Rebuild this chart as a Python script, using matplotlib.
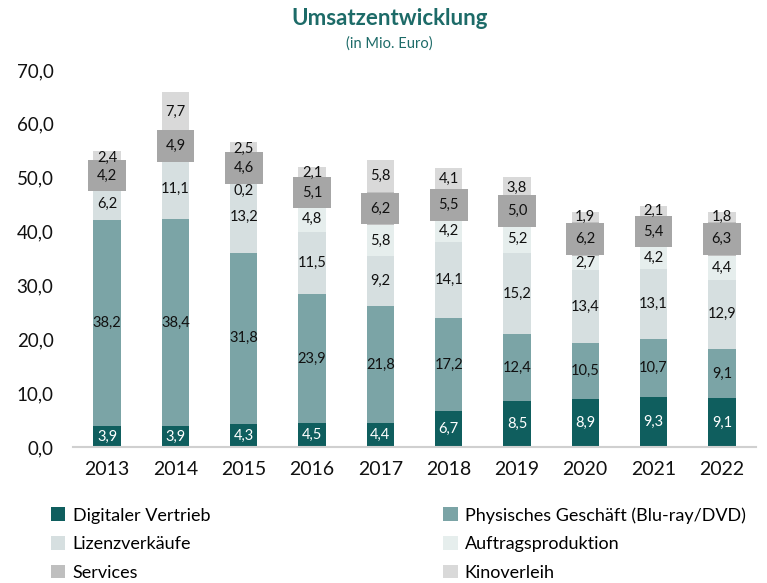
import matplotlib
matplotlib.use("Agg")
import matplotlib.pyplot as plt
import numpy as np

years = ["2013", "2014", "2015", "2016", "2017", "2018", "2019", "2020", "2021", "2022"]
digital = [3.9, 3.9, 4.3, 4.5, 4.4, 6.7, 8.5, 8.9, 9.3, 9.1]
physisch = [38.2, 38.4, 31.8, 23.9, 21.8, 17.2, 12.4, 10.5, 10.7, 9.1]
lizenz = [6.2, 11.1, 13.2, 11.5, 9.2, 14.1, 15.2, 13.4, 13.1, 12.9]
auftrag = [0.0, 0.0, 0.2, 4.8, 5.8, 4.2, 5.2, 2.7, 4.2, 4.4]
services = [4.2, 4.9, 4.6, 5.1, 6.2, 5.5, 5.0, 6.2, 5.4, 6.3]
kino = [2.4, 7.7, 2.5, 2.1, 5.8, 4.1, 3.8, 1.9, 2.1, 1.8]

series_names = ["Digitaler Vertrieb", "Physisches Geschäft (Blu-ray/DVD)", "Lizenzverkäufe",
                "Auftragsproduktion", "Services", "Kinoverleih"]
colors = ["#0f5e5e", "#7ba4a6", "#d6dfe0", "#e6eeed", "#bfbfbf", "#d9d9d9"]

plt.rcParams['font.family'] = ['Lato', 'DejaVu Sans']

fig = plt.figure(figsize=(7.67, 5.83), dpi=100)
ax = fig.add_axes([73/767, 136/583, 683/767, (447-70)/583])

x = np.arange(len(years))
data = [digital, physisch, lizenz, auftrag, services, kino]
bottom = np.zeros(len(years))
handles = []
for i, (vals, col, name) in enumerate(zip(data, colors, series_names)):
    vals = np.array(vals)
    h = ax.bar(x, vals, width=0.4, bottom=bottom, color=col, label=name, zorder=2)
    handles.append(h)
    for xi, v, b in zip(x, vals, bottom):
        if v <= 0:
            continue
        ytxt = b + v / 2
        if v < 1:
            ytxt = b - 1.7
        txt = f"{v:.1f}".replace(".", ",")
        if i == 0:
            ax.text(xi, ytxt, txt, ha="center", va="center", fontsize=10.5, color="white", zorder=7)
        elif i == 4:
            ax.text(xi, ytxt, txt, ha="center", va="center", fontsize=10.5, color="#111111", zorder=6,
                    bbox=dict(boxstyle="square,pad=0.6", fc="#a6a6a6", ec="none"))
        else:
            ax.text(xi, ytxt, txt, ha="center", va="center", fontsize=10.5, color="#111111", zorder=7)
    bottom = bottom + vals

ax.set_xlim(-0.5, len(years) - 0.5)
ax.set_ylim(0, 70)
ax.set_yticks(np.arange(0, 71, 10))
ax.set_yticklabels([f"{v:.1f}".replace(".", ",") for v in np.arange(0, 71, 10)], fontsize=13.5)
ax.set_xticks(x)
ax.set_xticklabels(years, fontsize=14)
for s in ["top", "right", "left"]:
    ax.spines[s].set_visible(False)
ax.spines["bottom"].set_color("#d0d0d0")
ax.spines["bottom"].set_linewidth(1.5)
ax.tick_params(axis="both", length=0, colors="#111111")
ax.tick_params(axis="y", pad=14)
ax.tick_params(axis="x", pad=10)

fig.text(0.508, 0.969, "Umsatzentwicklung", ha="center", va="center", fontsize=16,
         fontweight="bold", color="#1d6b68")
fig.text(0.508, 0.926, "(in Mio. Euro)", ha="center", va="center", fontsize=10.5, color="#1d6b68")

order = [0, 2, 4, 1, 3, 5]
leg = fig.legend([handles[i] for i in order], [series_names[i] for i in order],
                 ncol=2, loc="upper left", bbox_to_anchor=(51/767, 1 - 507/583), frameon=False,
                 fontsize=13, handlelength=0.8, handleheight=0.8, handletextpad=0.4,
                 columnspacing=12.9, labelspacing=0.69, borderpad=0, borderaxespad=0)

fig.savefig("out.png", dpi=100)
